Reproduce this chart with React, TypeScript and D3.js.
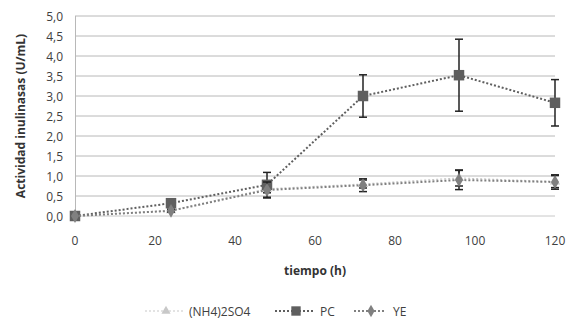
import React, { useEffect, useRef } from "react";
import * as d3 from "d3";

const hours = [0, 24, 48, 72, 96, 120];
const nh4Values = [0, 0.14, 0.68, 0.8, 0.95, 0.86];
const nh4Errors = [0, 0.03, 0.1, 0.1, 0.2, 0.15];
const pcValues = [0, 0.32, 0.78, 3.0, 3.52, 2.83];
const pcErrors = [0, 0.04, 0.31, 0.53, 0.9, 0.58];
const yeValues = [0, 0.13, 0.65, 0.77, 0.9, 0.85];
const yeErrors = [0, 0.03, 0.2, 0.16, 0.24, 0.18];
const xTicks = [0, 20, 40, 60, 80, 100, 120];
const yTicks = [0, 0.5, 1, 1.5, 2, 2.5, 3, 3.5, 4, 4.5, 5];

type Series = { name: string; values: number[]; errors: number[]; color: string; width: number; shape: "triangle" | "square" | "diamond" };

const series: Series[] = [
  { name: "(NH4)2SO4", values: nh4Values, errors: nh4Errors, color: "#c8c8c8", width: 1.2, shape: "triangle" },
  { name: "PC", values: pcValues, errors: pcErrors, color: "#5f5f5f", width: 2, shape: "square" },
  { name: "YE", values: yeValues, errors: yeErrors, color: "#808080", width: 2, shape: "diamond" },
];

const W = 573;
const H = 322;
const font = "'Open Sans', 'Liberation Sans', sans-serif";

export default function App() {
  const svgRef = useRef<SVGSVGElement>(null);

  useEffect(() => {
    const svg = d3.select(svgRef.current);
    svg.selectAll("*").remove();

    const x = d3.scaleLinear().domain([0, 120]).range([75, 555]);
    const y = d3.scaleLinear().domain([0, 5]).range([216, 16]);

    const symbolFor = (s: Series) =>
      s.shape === "triangle" ? d3.symbolTriangle : s.shape === "square" ? d3.symbolSquare : d3.symbolDiamond;
    const sizeFor = (s: Series) => (s.shape === "square" ? 110 : s.shape === "diamond" ? 55 : 45);

    // gridlines
    svg.append("g").selectAll("line")
      .data(yTicks)
      .join("line")
      .attr("x1", 75).attr("x2", 555)
      .attr("y1", d => y(d)).attr("y2", d => y(d))
      .attr("stroke", d => (d === 0 ? "#c8c8c8" : "#b8b8b8"))
      .attr("stroke-width", 1);

    svg.append("line")
      .attr("x1", 75.5).attr("x2", 75.5).attr("y1", y(5)).attr("y2", y(0))
      .attr("stroke", "#b8b8b8");

    // y tick labels
    svg.append("g").selectAll("text")
      .data(yTicks)
      .join("text")
      .attr("x", 63).attr("y", d => y(d) + 4.5)
      .attr("text-anchor", "end")
      .attr("font-family", font).attr("font-size", 12).attr("fill", "#404040")
      .text(d => d3.format(".1f")(d).replace(".", ","));

    // x tick labels
    svg.append("g").selectAll("text")
      .data(xTicks)
      .join("text")
      .attr("x", d => x(d)).attr("y", 245)
      .attr("text-anchor", "middle")
      .attr("font-family", font).attr("font-size", 12).attr("fill", "#404040")
      .text(d => d);

    svg.append("text")
      .attr("x", x(60)).attr("y", 275)
      .attr("text-anchor", "middle")
      .attr("font-family", font).attr("font-size", 12).attr("font-weight", "bold").attr("fill", "#333")
      .text("tiempo (h)");

    svg.append("text")
      .attr("transform", `translate(25,${y(2.5)}) rotate(-90)`)
      .attr("text-anchor", "middle")
      .attr("font-family", font).attr("font-size", 12).attr("font-weight", "bold").attr("fill", "#333")
      .text("Actividad inulinasas (U/mL)");

    const line = d3.line<number>().x((_, i) => x(hours[i])).y(d => y(d));

    series.forEach(s => {
      const g = svg.append("g");
      g.append("path")
        .attr("d", line(s.values))
        .attr("fill", "none")
        .attr("stroke", s.color)
        .attr("stroke-width", s.width)
        .attr("stroke-dasharray", "2,2");

      // error bars
      const eb = g.selectAll("g.eb")
        .data(s.values.map((v, i) => ({ v, e: s.errors[i], t: hours[i] })).filter(d => d.e > 0))
        .join("g");
      eb.append("line")
        .attr("x1", d => x(d.t)).attr("x2", d => x(d.t))
        .attr("y1", d => y(d.v + d.e)).attr("y2", d => y(d.v - d.e))
        .attr("stroke", "#222").attr("stroke-width", 1.5);
      [1, -1].forEach(sign => {
        eb.append("line")
          .attr("x1", d => x(d.t) - 4).attr("x2", d => x(d.t) + 4)
          .attr("y1", d => y(d.v + sign * d.e)).attr("y2", d => y(d.v + sign * d.e))
          .attr("stroke", "#222").attr("stroke-width", 1.5);
      });

      g.selectAll("path.m")
        .data(s.values)
        .join("path")
        .attr("class", "m")
        .attr("transform", (d, i) => `translate(${x(hours[i])},${y(d)})`)
        .attr("d", d3.symbol().type(symbolFor(s)).size(sizeFor(s))())
        .attr("fill", s.color);
    });

    // legend
    const legendItems = [
      { s: series[0], x1: 145, x2: 183, tx: 189 },
      { s: series[1], x1: 275, x2: 313, tx: 320 },
      { s: series[2], x1: 354, x2: 384, tx: 393 },
    ];
    const leg = svg.append("g");
    legendItems.forEach(li => {
      const ly = 311;
      leg.append("line")
        .attr("x1", li.x1).attr("x2", li.x2).attr("y1", ly).attr("y2", ly)
        .attr("stroke", li.s.color).attr("stroke-width", li.s.width).attr("stroke-dasharray", "2,2");
      leg.append("path")
        .attr("transform", `translate(${(li.x1 + li.x2) / 2 + 2},${ly})`)
        .attr("d", d3.symbol().type(symbolFor(li.s)).size(sizeFor(li.s) * 0.8)())
        .attr("fill", li.s.color);
      leg.append("text")
        .attr("x", li.tx).attr("y", ly + 4.5)
        .attr("font-family", font).attr("font-size", 12).attr("fill", "#404040")
        .text(li.s.name);
    });
  }, []);

  return (
    <div style={{ position: "absolute", left: 0, top: 0, background: "#fff" }}>
      <svg ref={svgRef} width={W} height={H} />
    </div>
  );
}
